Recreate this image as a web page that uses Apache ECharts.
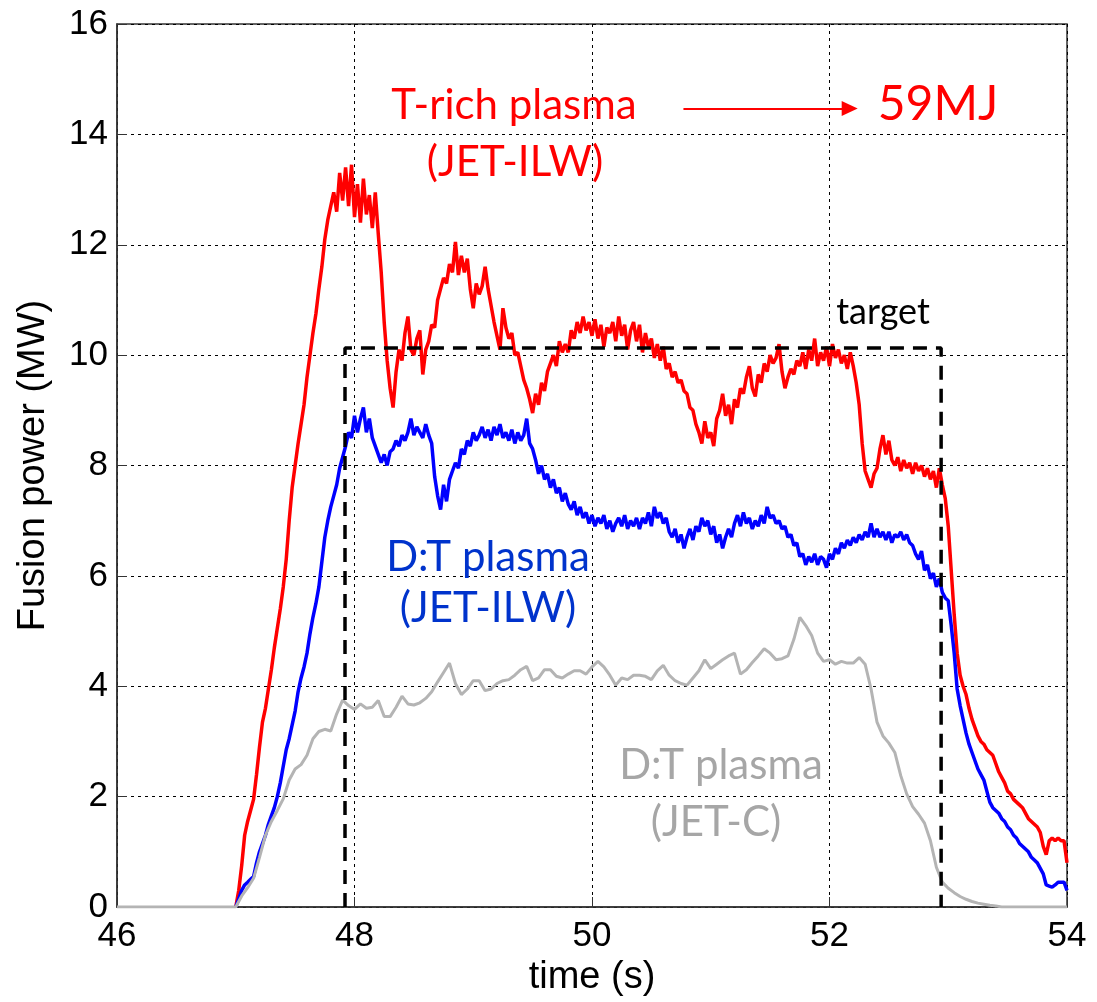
<!DOCTYPE html>
<html>
<head>
<meta charset="utf-8">
<title>Fusion power</title>
<script src="https://cdn.jsdelivr.net/npm/echarts@6/dist/echarts.min.js"></script>
<style>
    html, body { margin: 0; padding: 0; background: #fff; }
    #chart { width: 1097px; height: 1002px; }
</style>
</head>
<body>
<div id="chart"></div>
<script>
// sampled traces, all start at 47.0 s
const traceStart = 47.0;
const fastStep = 0.025;
const slowStep = 0.05;

// T-rich plasma (JET-ILW), one row = 0.25 s
const redPower = [
    0.0, 0.3, 0.75, 1.3, 1.55, 1.75, 1.95, 2.4, 2.9, 3.35,
    3.6, 3.95, 4.3, 4.7, 5.05, 5.4, 5.8, 6.3, 7.0, 7.6,
    8.0, 8.4, 8.75, 9.1, 9.6, 10.0, 10.4, 10.75, 11.2, 11.6,
    12.1, 12.45, 12.7, 12.95, 12.6, 13.3, 12.8, 13.4, 12.7, 13.45,
    12.5, 13.1, 12.4, 13.2, 12.55, 12.9, 12.3, 12.95, 12.2, 11.5,
    10.6, 9.9, 9.4, 9.05, 9.7, 10.1, 9.9, 10.4, 10.7, 10.1,
    10.0, 10.3, 10.45, 9.65, 10.1, 10.25, 10.55, 10.5, 11.0, 11.2,
    11.4, 11.3, 11.65, 11.5, 12.05, 11.45, 11.8, 11.5, 11.75, 11.2,
    10.85, 11.3, 11.1, 11.25, 11.6, 11.2, 10.9, 10.6, 10.35, 10.1,
    10.85, 10.5, 10.3, 10.4, 10.0, 10.05, 9.8, 9.55, 9.4, 9.2,
    8.95, 9.3, 9.1, 9.5, 9.35, 9.7, 9.85, 10.0, 9.8, 10.25,
    10.05, 10.2, 10.05, 10.45, 10.3, 10.6, 10.4, 10.7, 10.45, 10.6,
    10.35, 10.65, 10.3, 10.55, 10.15, 10.5, 10.4, 10.6, 10.25, 10.7,
    10.35, 10.55, 10.1, 10.45, 10.6, 10.25, 10.55, 10.05, 10.4, 10.15,
    10.3, 9.95, 10.2, 9.9, 10.15, 9.75, 9.85, 9.6, 9.7, 9.5,
    9.55, 9.35, 9.3, 9.05, 9.0, 8.75, 8.6, 8.4, 8.8, 8.5,
    8.6, 8.35, 8.85, 9.0, 9.3, 8.9, 9.1, 8.75, 9.2, 9.05,
    9.4, 9.3, 9.6, 9.8, 9.4, 9.25, 9.65, 9.5, 9.85, 9.7,
    10.0, 9.85, 9.95, 10.2, 9.7, 9.4, 9.6, 9.75, 9.65, 9.9,
    9.8, 10.05, 9.75, 10.1, 9.9, 10.3, 9.8, 10.05, 9.9, 10.15,
    9.8, 10.2, 9.95, 10.1, 9.85, 10.0, 9.75, 10.05, 9.8, 9.5,
    9.1, 8.4, 7.9, 7.75, 7.6, 7.85, 7.95, 8.3, 8.55, 8.2,
    8.45, 8.1, 8.0, 8.15, 7.9, 8.1, 7.95, 8.05, 7.85, 8.05,
    7.9, 8.0, 7.8, 7.95, 7.75, 7.9, 7.6, 7.95, 7.65, 7.4,
    6.9, 6.1, 5.3, 4.6, 4.2, 4.0, 3.85, 3.6, 3.4, 3.25,
    3.1, 3.0, 2.95, 2.85, 2.8, 2.75, 2.6, 2.45, 2.35, 2.25,
    2.1, 2.05, 1.95, 1.9, 1.85, 1.8, 1.7, 1.6, 1.55, 1.5,
    1.45, 1.35, 1.1, 0.95, 1.2, 1.25, 1.2, 1.25, 1.2, 1.2,
    0.8
];

// D:T plasma (JET-ILW), one row = 0.25 s
const bluePower = [
    0.0, 0.15, 0.3, 0.4, 0.45, 0.5, 0.55, 0.8, 1.0, 1.15,
    1.3, 1.5, 1.65, 1.8, 2.0, 2.25, 2.55, 2.85, 3.05, 3.3,
    3.55, 3.9, 4.15, 4.35, 4.6, 4.95, 5.25, 5.5, 5.8, 6.25,
    6.7, 7.0, 7.25, 7.45, 7.65, 7.95, 8.15, 8.35, 8.6, 8.5,
    8.9, 8.6, 8.85, 9.05, 8.6, 8.85, 8.5, 8.35, 8.2, 8.05,
    8.2, 8.0, 8.25, 8.3, 8.45, 8.35, 8.55, 8.45, 8.6, 8.85,
    8.55, 8.7, 8.6, 8.5, 8.75, 8.55, 8.4, 7.8, 7.45, 7.2,
    7.65, 7.35, 7.75, 7.9, 8.05, 7.95, 8.3, 8.2, 8.45, 8.35,
    8.6, 8.45, 8.55, 8.7, 8.5, 8.65, 8.45, 8.7, 8.55, 8.75,
    8.5, 8.6, 8.45, 8.65, 8.4, 8.6, 8.45, 8.55, 8.85, 8.4,
    8.3, 8.1, 7.85, 8.0, 7.75, 7.85, 7.6, 7.75, 7.5, 7.6,
    7.35, 7.5, 7.3, 7.2, 7.35, 7.1, 7.25, 7.05, 7.15, 6.95,
    7.1, 6.9, 7.05, 6.95, 7.1, 6.85, 7.0, 6.8, 6.95, 7.05,
    6.9, 7.1, 6.85, 7.0, 6.9, 7.05, 6.85, 7.05, 6.95, 7.15,
    6.9, 7.25, 7.05, 7.15, 6.95, 7.05, 6.8, 6.7, 6.85, 6.6,
    6.75, 6.5, 6.7, 6.85, 6.65, 6.9, 6.8, 7.05, 6.9, 7.0,
    6.75, 6.9, 6.6, 6.75, 6.5, 6.7, 6.85, 6.7, 6.95, 7.1,
    6.9, 7.15, 6.95, 7.05, 6.85, 7.0, 6.9, 7.1, 6.95, 7.25,
    7.05, 7.1, 6.95, 7.0, 6.85, 6.9, 6.7, 6.75, 6.55, 6.6,
    6.35, 6.4, 6.2, 6.35, 6.25, 6.4, 6.2, 6.35, 6.3, 6.15,
    6.4, 6.3, 6.5, 6.4, 6.6, 6.5, 6.65, 6.55, 6.7, 6.6,
    6.75, 6.65, 6.8, 6.7, 6.95, 6.7, 6.85, 6.7, 6.8, 6.65,
    6.8, 6.6, 6.75, 6.7, 6.8, 6.65, 6.75, 6.6, 6.55, 6.4,
    6.3, 6.45, 6.1, 6.2, 5.95, 6.05, 5.8, 5.95, 5.7, 5.6,
    5.55, 5.1, 4.6, 3.95, 3.65, 3.4, 3.15, 2.95, 2.8, 2.65,
    2.5, 2.4, 2.3, 2.1, 1.9, 1.8, 1.75, 1.7, 1.6, 1.55,
    1.45, 1.4, 1.3, 1.25, 1.15, 1.1, 1.05, 1.0, 0.9, 0.85,
    0.8, 0.7, 0.6, 0.4, 0.38, 0.36, 0.4, 0.45, 0.45, 0.45,
    0.3
];

// D:T plasma (JET-C), one row = 0.5 s
const greyPower = [
    0.0, 0.2, 0.35, 0.52, 0.9, 1.3, 1.55, 1.75, 1.96, 2.3,
    2.5, 2.58, 2.75, 3.05, 3.18, 3.22, 3.19, 3.5, 3.75, 3.65,
    3.58, 3.68, 3.6, 3.62, 3.74, 3.45, 3.45, 3.62, 3.82, 3.68,
    3.66, 3.7, 3.78, 3.9, 4.08, 4.25, 4.42, 4.05, 3.85, 3.95,
    4.1, 4.1, 3.92, 3.95, 4.05, 4.1, 4.12, 4.2, 4.3, 4.36,
    4.1, 4.15, 4.3, 4.3, 4.18, 4.15, 4.22, 4.28, 4.28, 4.22,
    4.35, 4.45, 4.35, 4.2, 4.02, 4.15, 4.12, 4.2, 4.2, 4.18,
    4.12, 4.28, 4.38, 4.2, 4.1, 4.05, 4.02, 4.15, 4.28, 4.48,
    4.32, 4.4, 4.48, 4.55, 4.6, 4.22, 4.3, 4.43, 4.55, 4.68,
    4.6, 4.48, 4.5, 4.55, 4.85, 5.25, 5.1, 4.92, 4.6, 4.45,
    4.48, 4.4, 4.45, 4.42, 4.42, 4.52, 4.4, 3.95, 3.35, 3.1,
    2.97, 2.8, 2.38, 2.05, 1.82, 1.68, 1.52, 1.2, 0.72, 0.45,
    0.34, 0.26, 0.19, 0.14, 0.1, 0.07, 0.05, 0.03, 0.02, 0.0,
    0.0, 0.0, 0.0, 0.0, 0.0, 0.0, 0.0, 0.0, 0.0, 0.0,
    0.0
];

// target box and 59MJ arrow
const targetTimes = [47.92, 52.94];
const targetPower = 10.13;
const arrowTimes = [50.77, 52.17];
const arrowPower = 14.47;

const timeTicks = { min: 46, max: 54, interval: 2 };
const powerTicks = { min: 0, max: 16, interval: 2 };

(function () {
    let chart = echarts.init(document.querySelector("#chart"));

    function toPairs(values, step) {
        return values.map((p, i) => [+(traceStart + i * step).toFixed(3), p]);
    }

    let greyData = [[timeTicks.min, 0]].concat(toPairs(greyPower, slowStep));
    let boxData = [
        [targetTimes[0], 0],
        [targetTimes[0], targetPower],
        [targetTimes[1], targetPower],
        [targetTimes[1], 0]
    ];

    const tickFont = 'Liberation Sans, Arial, sans-serif';
    const noteFont = 'Lato, Open Sans, sans-serif';

    function note(text, x, y, color, size) {
        return {
            type: 'text',
            x: x,
            y: y,
            z: 100,
            style: {
                text: text,
                fill: color,
                font: size + 'px ' + noteFont,
                textAlign: 'center',
                textVerticalAlign: 'middle'
            }
        };
    }

    let option = {
        animation: false,
        backgroundColor: '#fff',
        grid: {
            left: 117,
            right: 30,
            top: 24,
            bottom: 90,
            show: true,
            borderColor: '#333',
            borderWidth: 1.5
        },
        xAxis: {
            type: 'value',
            min: timeTicks.min,
            max: timeTicks.max,
            interval: timeTicks.interval,
            name: 'time (s)',
            nameLocation: 'middle',
            nameGap: 52,
            nameTextStyle: { fontSize: 38, color: '#000', fontFamily: tickFont },
            axisLine: { lineStyle: { color: '#333', width: 1.5 } },
            axisTick: { inside: true, length: 10, lineStyle: { color: '#333' } },
            axisLabel: { fontSize: 35, color: '#000', fontFamily: tickFont, margin: 12 },
            splitLine: { lineStyle: { color: '#000', type: [3, 4], width: 1 } }
        },
        yAxis: {
            type: 'value',
            min: powerTicks.min,
            max: powerTicks.max,
            interval: powerTicks.interval,
            name: 'Fusion power (MW)',
            nameLocation: 'middle',
            nameGap: 64,
            nameTextStyle: { fontSize: 38, color: '#000', fontFamily: tickFont },
            axisLine: { lineStyle: { color: '#333', width: 1.5 } },
            axisTick: { inside: true, length: 10, lineStyle: { color: '#333' } },
            axisLabel: { fontSize: 35, color: '#000', fontFamily: tickFont, margin: 9 },
            splitLine: { lineStyle: { color: '#000', type: [3, 4], width: 1 } }
        },
        series: [
            {
                name: 'T-rich plasma (JET-ILW)',
                type: 'line',
                showSymbol: false,
                data: toPairs(redPower, fastStep),
                lineStyle: { color: '#ff0000', width: 3.5 },
                markLine: {
                    silent: true,
                    symbol: ['none', 'triangle'],
                    symbolSize: [15, 16],
                    label: { show: false },
                    lineStyle: { color: '#ff0000', width: 2, type: 'solid' },
                    data: [[
                        { coord: [arrowTimes[0], arrowPower] },
                        { coord: [arrowTimes[1], arrowPower] }
                    ]]
                }
            },
            {
                name: 'D:T plasma (JET-ILW)',
                type: 'line',
                showSymbol: false,
                data: toPairs(bluePower, fastStep),
                lineStyle: { color: '#0000ff', width: 3.5 }
            },
            {
                name: 'D:T plasma (JET-C)',
                type: 'line',
                showSymbol: false,
                data: greyData,
                lineStyle: { color: '#b4b4b4', width: 3 }
            },
            {
                name: 'target',
                type: 'line',
                showSymbol: false,
                data: boxData,
                lineStyle: { color: '#000', width: 3.5, type: [14, 9] }
            }
        ],
        graphic: [
            note('T-rich plasma', 514, 105, '#ff0000', 42),
            note('(JET-ILW)', 515, 162, '#ff0000', 42),
            note('59MJ', 938, 105, '#ff0000', 48),
            note('target', 883, 312, '#000', 36),
            note('D:T plasma', 488, 557, '#0033cc', 42),
            note('(JET-ILW)', 488, 608, '#0033cc', 42),
            note('D:T plasma', 721, 765, '#a6a6a6', 42),
            note('(JET-C)', 716, 822, '#a6a6a6', 42)
        ]
    };

    chart.setOption(option);

    window.addEventListener('resize', () => chart.resize());
})();
</script>
</body>
</html>
